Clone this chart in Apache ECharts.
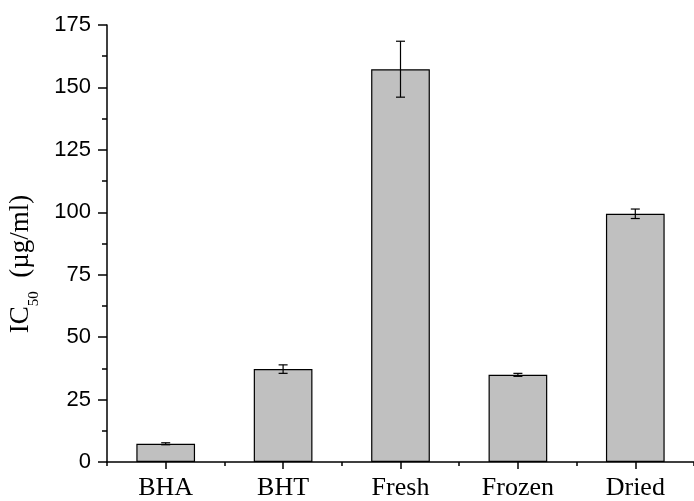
<!DOCTYPE html>
<html>
<head>
<meta charset="utf-8">
<script src="https://cdn.jsdelivr.net/npm/echarts@6/dist/echarts.min.js"></script>
<style>
html,body{margin:0;padding:0;background:#fff;}
#chart{width:694px;height:501px;}
</style>
</head>
<body>
<div id="chart"></div>
<script>
const categories = ['BHA', 'BHT', 'Fresh', 'Frozen', 'Dried'];
const ic50Values = [7.3, 37.2, 157.3, 34.9, 99.4];
const ic50Errors = [0.4, 1.7, 11.2, 0.6, 1.9];
const yTicks = [0, 25, 50, 75, 100, 125, 150, 175];

const chart = echarts.init(document.getElementById('chart'), null, {renderer: 'canvas'});

const errorData = categories.map((c, i) => [i, ic50Values[i] - ic50Errors[i], ic50Values[i] + ic50Errors[i]]);

const option = {
  backgroundColor: '#ffffff',
  animation: false,
  grid: {left: 107, top: 25, width: 595, height: 438, containLabel: false},
  xAxis: [
    {
      type: 'category',
      data: categories,
      axisLine: {show: true, lineStyle: {color: '#000', width: 1.5}},
      axisTick: {show: true, alignWithLabel: true, length: 7, lineStyle: {color: '#000', width: 1.5}},
      axisLabel: {color: '#000', fontFamily: 'Liberation Serif', fontSize: 26, margin: 13},
      splitLine: {show: false}
    },
    {
      type: 'value',
      position: 'bottom',
      min: 0, max: 5, interval: 1,
      axisLine: {show: false},
      axisTick: {show: true, length: 4, lineStyle: {color: '#000', width: 1.5}},
      axisLabel: {show: false},
      splitLine: {show: false}
    }
  ],
  yAxis: {
    type: 'value',
    min: yTicks[0], max: yTicks[yTicks.length - 1], interval: 25,
    axisLine: {show: true, lineStyle: {color: '#000', width: 1.5}},
    axisTick: {show: true, length: 9, lineStyle: {color: '#000', width: 1.5}},
    minorTick: {show: true, splitNumber: 2, length: 5, lineStyle: {color: '#000', width: 1.5}},
    axisLabel: {color: '#000', fontFamily: 'Liberation Sans', fontSize: 22, margin: 16},
    splitLine: {show: false}
  },
  graphic: [{
    type: 'text',
    x: 22, y: 264,
    rotation: Math.PI / 2,
    style: {
      text: '{a|IC}{s|50}{a|  (µg/ml)}',
      align: 'center',
      verticalAlign: 'middle',
      fill: '#000',
      rich: {
        a: {fontFamily: 'Liberation Serif', fontSize: 27, lineHeight: 30, verticalAlign: 'top', fill: '#000'},
        s: {fontFamily: 'Liberation Serif', fontSize: 15, lineHeight: 15, padding: [20, 0, 0, 0], verticalAlign: 'top', fill: '#000'}
      }
    }
  }],
  series: [
    {
      type: 'bar',
      data: ic50Values,
      barWidth: '50%',
      itemStyle: {color: '#c0c0c0', borderColor: '#000', borderWidth: 1.2},
      z: 2
    },
    {
      type: 'custom',
      data: errorData,
      z: 3,
      renderItem: function (params, api) {
        const x = api.value(0);
        const lo = api.coord([x, api.value(1)]);
        const hi = api.coord([x, api.value(2)]);
        const hw = 4.5;
        const st = {stroke: '#000', lineWidth: 1.2};
        return {
          type: 'group',
          children: [
            {type: 'line', shape: {x1: hi[0], y1: hi[1], x2: lo[0], y2: lo[1]}, style: st},
            {type: 'line', shape: {x1: hi[0] - hw, y1: hi[1], x2: hi[0] + hw, y2: hi[1]}, style: st},
            {type: 'line', shape: {x1: lo[0] - hw, y1: lo[1], x2: lo[0] + hw, y2: lo[1]}, style: st}
          ]
        };
      }
    }
  ]
};
chart.setOption(option);
</script>
</body>
</html>
